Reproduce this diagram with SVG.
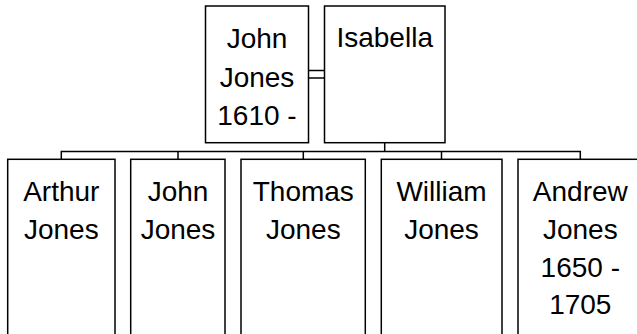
<svg xmlns="http://www.w3.org/2000/svg" width="637" height="334" viewBox="0 0 637 334">
<style>
.box{fill:#fff;stroke:#000;stroke-width:1.5}
.ln{fill:none;stroke:#000;stroke-width:1.5}
text{font-family:"Liberation Sans",Arial,sans-serif;font-size:28px;fill:#000;text-anchor:middle}
</style>
<rect width="637" height="334" fill="#fff"/>
<g id="connectors">
<line class="ln" x1="308.5" y1="70.5" x2="324.5" y2="70.5"/>
<line class="ln" x1="308.5" y1="78" x2="324.5" y2="78"/>
<line class="ln" x1="384.7" y1="142.7" x2="384.7" y2="151.5"/>
<polyline class="ln" points="61.3,159.3 61.3,151.5 580.3,151.5 580.3,159.3"/>
<line class="ln" x1="178" y1="151.5" x2="178" y2="159.3"/>
<line class="ln" x1="303.3" y1="151.5" x2="303.3" y2="159.3"/>
<line class="ln" x1="441.5" y1="151.5" x2="441.5" y2="159.3"/>
</g>
<g id="john-sr">
<rect class="box" x="205.5" y="6" width="103" height="136.7"/>
<text x="257" y="47.5">John</text>
<text x="257" y="86.5">Jones</text>
<text x="257" y="125">1610 -</text>
</g>
<g id="isabella">
<rect class="box" x="324.5" y="6" width="120.5" height="136.7"/>
<text x="384.7" y="47">Isabella</text>
</g>
<g id="arthur">
<rect class="box" x="7.7" y="159.3" width="107.3" height="185"/>
<text x="61.3" y="201">Arthur</text>
<text x="61.3" y="239">Jones</text>
</g>
<g id="john-jr">
<rect class="box" x="130.7" y="159.3" width="94.3" height="185"/>
<text x="178" y="201">John</text>
<text x="178" y="239">Jones</text>
</g>
<g id="thomas">
<rect class="box" x="241" y="159.3" width="124.3" height="185"/>
<text x="303.3" y="201">Thomas</text>
<text x="303.3" y="239">Jones</text>
</g>
<g id="william">
<rect class="box" x="381.3" y="159.3" width="120.7" height="185"/>
<text x="441.5" y="201">William</text>
<text x="441.5" y="239">Jones</text>
</g>
<g id="andrew">
<rect class="box" x="518" y="159.3" width="130" height="185"/>
<text x="580.3" y="201">Andrew</text>
<text x="580.3" y="239">Jones</text>
<text x="580.3" y="277">1650 -</text>
<text x="580.3" y="314">1705</text>
</g>
</svg>
